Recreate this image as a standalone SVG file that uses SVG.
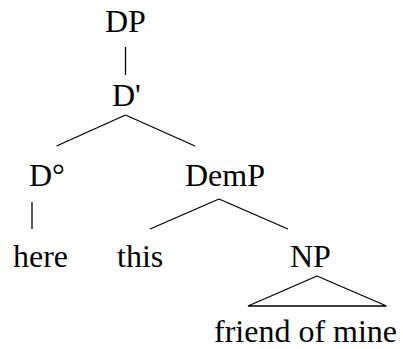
<svg xmlns="http://www.w3.org/2000/svg" width="403" height="349" viewBox="0 0 403 349">
  <style>
    text { font-family: "Liberation Serif", "Times New Roman", serif; font-size: 32px; fill: #000; }
    .edge { stroke: #000; stroke-width: 1.3; fill: none; }
  </style>
  <rect width="403" height="349" fill="#fff"/>
  <g id="connectors">
    <line class="edge" x1="125.5" y1="47" x2="125.5" y2="75"/>
    <line class="edge" x1="125.5" y1="115" x2="56.5" y2="146"/>
    <line class="edge" x1="125.5" y1="115" x2="195" y2="146"/>
    <line class="edge" x1="32" y1="202" x2="32" y2="229"/>
    <line class="edge" x1="219" y1="199" x2="150" y2="229"/>
    <line class="edge" x1="219" y1="199" x2="288" y2="229"/>
    <polyline class="edge" points="317,276 248,306 386.5,306 317,276"/>
  </g>
  <g id="node-DP"><text x="105" y="32">DP</text></g>
  <g id="node-Dbar"><text x="112" y="106">D'</text></g>
  <g id="node-D0"><text x="29" y="186">D°</text></g>
  <g id="node-DemP"><text x="185" y="186">DemP</text></g>
  <g id="node-here"><text x="13" y="267">here</text></g>
  <g id="node-this"><text x="117" y="267">this</text></g>
  <g id="node-NP"><text x="290" y="267">NP</text></g>
  <g id="node-friend"><text x="214" y="342">friend of mine</text></g>
</svg>
